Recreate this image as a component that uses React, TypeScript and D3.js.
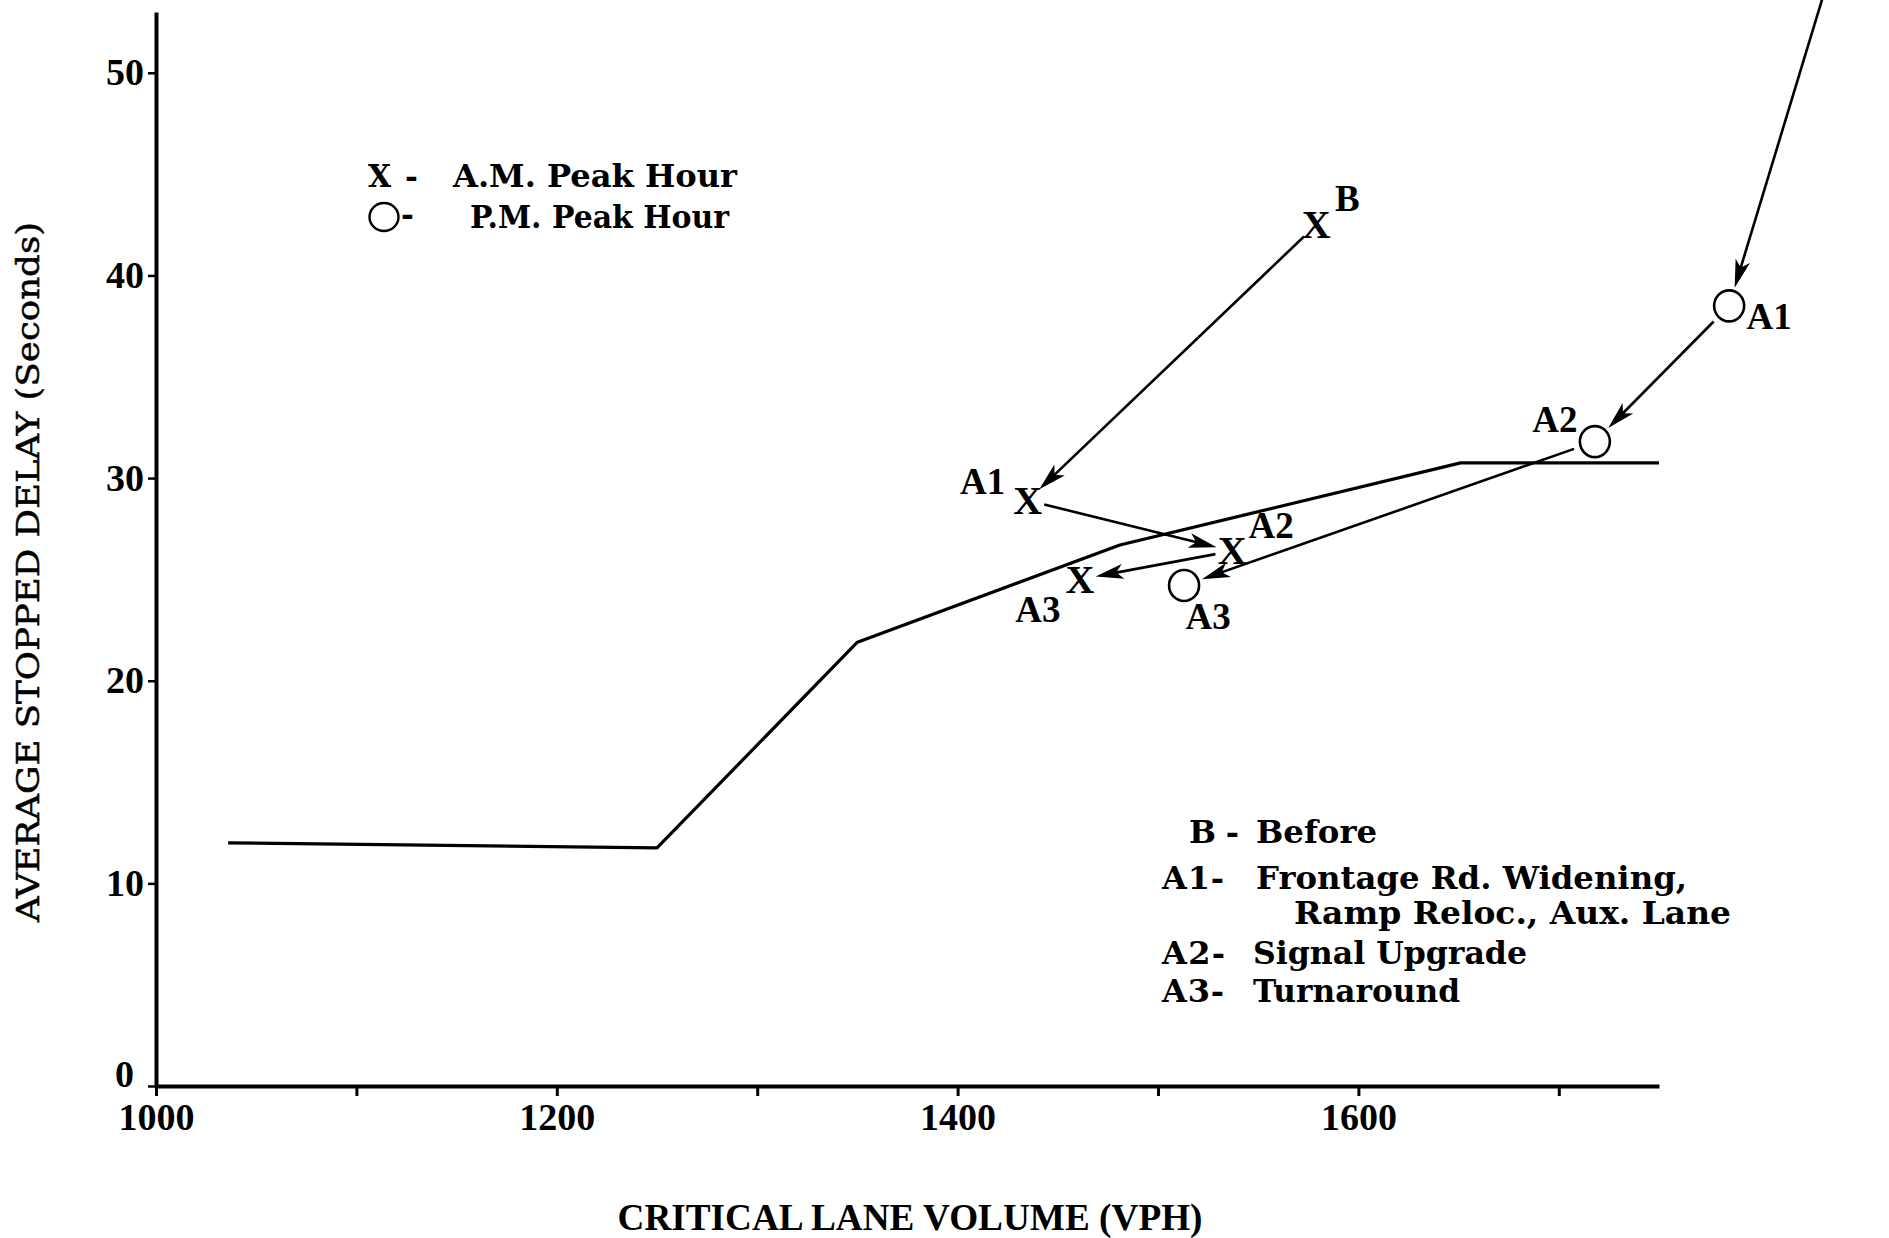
import React, { useEffect, useRef } from 'react';
import * as d3 from 'd3';

// delay curve (critical lane volume vs average stopped delay)
const curveVolume = [1036, 1250, 1350, 1481, 1651, 1750];
const curveDelay = [12.0, 11.75, 21.9, 26.7, 30.75, 30.75];

// before / after observations
const stageNames = ['B', 'A1', 'A2', 'A3'];
const amVolume = [1579, 1435, 1537, 1461];
const amDelay = [42.5, 28.9, 26.4, 25.0];
const pmVolume = [1839, 1785, 1718, 1513];
const pmDelay = [56.1, 38.5, 31.8, 24.7];

const yTicks = [0, 10, 20, 30, 40, 50];
const xTicks = [1000, 1100, 1200, 1300, 1400, 1500, 1600, 1700];
const xTickLabels = ['1000', '', '1200', '', '1400', '', '1600', ''];

const peakLegend = ['A.M. Peak Hour', 'P.M. Peak Hour'];
const stageKeys = ['B-', 'A1-', '', 'A2-', 'A3-'];
const stageText = ['Before', 'Frontage Rd. Widening,', 'Ramp Reloc., Aux. Lane', 'Signal Upgrade', 'Turnaround'];

const W = 1889;
const H = 1238;
const labelFont = '"Liberation Serif", "Times New Roman", serif';
const legendFont = '"DejaVu Serif", serif';

const App = () => {
    const svgRef = useRef(null);

    useEffect(() => {
        if (!svgRef.current) return;
        const svg = d3.select(svgRef.current);
        svg.selectAll('*').remove();

        const x = d3.scaleLinear().domain([1000, 1750]).range([156, 1659]);
        const y = d3.scaleLinear().domain([0, 53]).range([1086, 12]);

        svg.append('rect').attr('width', W).attr('height', H).attr('fill', '#fff');

        // axes
        const yAxis = svg.append('g')
            .attr('transform', `translate(${x(1000)},0)`)
            .call(d3.axisLeft(y).tickValues(yTicks).tickSize(8).tickSizeOuter(0).tickPadding(4));
        yAxis.select('.domain').attr('stroke', '#000').attr('stroke-width', 4);
        yAxis.selectAll('.tick line').attr('stroke', '#000').attr('stroke-width', 2.5);
        yAxis.selectAll('.tick text')
            .attr('fill', '#000')
            .attr('dy', d => d === 0 ? '0.02em' : '0.32em')
            .attr('x', d => d === 0 ? -22 : -12)
            .style('font-family', labelFont)
            .style('font-weight', 'bold')
            .style('font-size', '38px');

        const xAxis = svg.append('g')
            .attr('transform', `translate(0,${y(0)})`)
            .call(d3.axisBottom(x).tickValues(xTicks).tickSize(10).tickSizeOuter(0).tickPadding(7)
                .tickFormat((d, i) => xTickLabels[i]));
        xAxis.select('.domain').attr('stroke', '#000').attr('stroke-width', 4);
        xAxis.selectAll('.tick line').attr('stroke', '#000').attr('stroke-width', 3);
        xAxis.selectAll('.tick text')
            .attr('fill', '#000')
            .style('font-family', labelFont)
            .style('font-weight', 'bold')
            .style('font-size', '38px');

        // axis titles
        svg.append('text')
            .attr('transform', `translate(39,${572}) rotate(-90)`)
            .attr('text-anchor', 'middle')
            .attr('textLength', 700)
            .attr('lengthAdjust', 'spacingAndGlyphs')
            .attr('stroke', '#000')
            .attr('stroke-width', 0.5)
            .style('font-family', legendFont)
            .style('font-size', '32px')
            .text('AVERAGE STOPPED DELAY (Seconds)');

        svg.append('text')
            .attr('x', 910)
            .attr('y', 1230)
            .attr('text-anchor', 'middle')
            .attr('textLength', 585)
            .attr('lengthAdjust', 'spacingAndGlyphs')
            .style('font-family', labelFont)
            .style('font-weight', 'bold')
            .style('font-size', '38px')
            .text('CRITICAL LANE VOLUME (VPH)');

        // delay curve
        const line = d3.line().x(d => x(d[0])).y(d => y(d[1]));
        svg.append('path')
            .attr('d', line(curveVolume.map((v, i) => [v, curveDelay[i]])))
            .attr('fill', 'none')
            .attr('stroke', '#000')
            .attr('stroke-width', 3.2)
            .attr('stroke-linejoin', 'round');

        // arrows between stages
        const drawArrow = (x0, y0, x1, y1, startGap, endGap) => {
            const dx = x1 - x0, dy = y1 - y0;
            const len = Math.sqrt(dx * dx + dy * dy);
            const ux = dx / len, uy = dy / len;
            const sx = x0 + ux * startGap, sy = y0 + uy * startGap;
            const tx = x1 - ux * endGap, ty = y1 - uy * endGap;
            svg.append('line')
                .attr('x1', sx).attr('y1', sy)
                .attr('x2', tx - ux * 10).attr('y2', ty - uy * 10)
                .attr('stroke', '#000')
                .attr('stroke-width', 2.6);
            const ang = Math.atan2(uy, ux) * 180 / Math.PI;
            svg.append('path')
                .attr('d', 'M0,0 L-28,-7.5 L-21,0 L-28,7.5 Z')
                .attr('transform', `translate(${tx},${ty}) rotate(${ang})`)
                .attr('fill', '#000');
        };

        for (let i = 0; i < stageNames.length - 1; i++) {
            drawArrow(x(amVolume[i]), y(amDelay[i]), x(amVolume[i + 1]), y(amDelay[i + 1]), 17, 16);
            drawArrow(x(pmVolume[i]), y(pmDelay[i]), x(pmVolume[i + 1]), y(pmDelay[i + 1]), 22, 19);
        }

        // A.M. markers
        svg.append('g').selectAll('text')
            .data(amVolume.map((v, i) => [v, amDelay[i]]))
            .join('text')
            .attr('x', d => x(d[0]))
            .attr('y', d => y(d[1]))
            .attr('dy', '0.33em')
            .attr('text-anchor', 'middle')
            .style('font-family', labelFont)
            .style('font-weight', 'bold')
            .style('font-size', '40px')
            .text('X');

        // P.M. markers
        svg.append('g').selectAll('ellipse')
            .data(pmVolume.map((v, i) => [v, pmDelay[i]]))
            .join('ellipse')
            .attr('cx', d => x(d[0]))
            .attr('cy', d => y(d[1]))
            .attr('rx', 15)
            .attr('ry', 15.5)
            .attr('fill', '#fff')
            .attr('stroke', '#000')
            .attr('stroke-width', 2.6);

        // stage labels beside the markers
        const amOffsets = [[31, -26], [-45, -19], [39, -25], [-42, 30]];
        const pmOffsets = [null, [40, 11], [-40, -22], [24, 31]];
        const addLabel = (px, py, text) => {
            svg.append('text')
                .attr('x', px)
                .attr('y', py)
                .attr('dy', '0.33em')
                .attr('text-anchor', 'middle')
                .style('font-family', labelFont)
                .style('font-weight', 'bold')
                .style('font-size', '37px')
                .text(text);
        };
        stageNames.forEach((s, i) => {
            addLabel(x(amVolume[i]) + amOffsets[i][0], y(amDelay[i]) + amOffsets[i][1], s);
            if (pmOffsets[i]) addLabel(x(pmVolume[i]) + pmOffsets[i][0], y(pmDelay[i]) + pmOffsets[i][1], s);
        });

        // peak hour legend
        const leg = svg.append('g')
            .style('font-family', legendFont)
            .style('font-weight', 'bold')
            .style('font-size', '31px');
        leg.append('text').attr('x', 368).attr('y', 187)
            .attr('textLength', 23).attr('lengthAdjust', 'spacingAndGlyphs').text('X');
        leg.append('text').attr('x', 405).attr('y', 187).text('-');
        leg.append('ellipse')
            .attr('cx', 384).attr('cy', 217).attr('rx', 14.5).attr('ry', 14)
            .attr('fill', 'none').attr('stroke', '#000').attr('stroke-width', 2.4);
        leg.append('text').attr('x', 401).attr('y', 225).text('-');
        const peakX = [453, 470];
        const peakW = [284, 259];
        peakLegend.forEach((t, i) => {
            leg.append('text')
                .attr('x', peakX[i])
                .attr('y', 187 + i * 41)
                .attr('textLength', peakW[i])
                .attr('lengthAdjust', 'spacingAndGlyphs')
                .text(t);
        });

        // stage legend
        const keyX = [1189, 1162, 0, 1162, 1162];
        const keyW = [50, 62, 0, 63, 62];
        const textX = [1256, 1256, 1294, 1253, 1253];
        const textW = [121, 431, 437, 274, 207];
        const rowY = [843, 889, 924, 964, 1002];
        const leg2 = svg.append('g')
            .style('font-family', legendFont)
            .style('font-weight', 'bold')
            .style('font-size', '32px');
        stageText.forEach((t, i) => {
            if (stageKeys[i]) {
                leg2.append('text')
                    .attr('x', keyX[i])
                    .attr('y', rowY[i])
                    .attr('textLength', keyW[i])
                    .attr('lengthAdjust', 'spacing')
                    .text(stageKeys[i]);
            }
            leg2.append('text')
                .attr('x', textX[i])
                .attr('y', rowY[i])
                .attr('textLength', textW[i])
                .attr('lengthAdjust', 'spacingAndGlyphs')
                .text(t);
        });
    }, []);

    return (
        <svg ref={svgRef} width={W} height={H}
            style={{ position: 'absolute', left: 0, top: 0, background: '#fff' }}></svg>
    );
};

export default App;
